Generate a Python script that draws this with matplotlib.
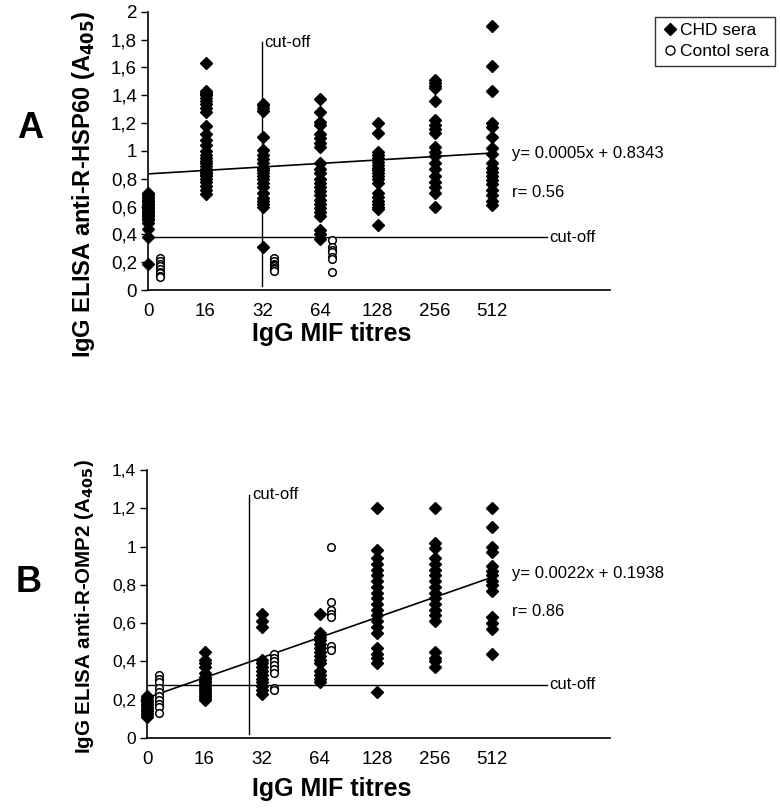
import matplotlib
matplotlib.use('Agg')
from matplotlib import pyplot as plt
from matplotlib.lines import Line2D

plt.rcParams['font.family'] = ['Liberation Sans', 'DejaVu Sans']

titres = ['0', '16', '32', '64', '128', '256', '512']

# panel A: anti-R-HSP60, CHD sera per titre
a_chd = [
    [0.70, 0.69, 0.68, 0.67, 0.66, 0.65, 0.64, 0.63, 0.62, 0.61, 0.60, 0.59, 0.58,
     0.57, 0.56, 0.55, 0.54, 0.53, 0.52, 0.51, 0.50, 0.48, 0.44, 0.38, 0.19],
    [1.63, 1.43, 1.42, 1.41, 1.40, 1.38, 1.36, 1.34, 1.31, 1.28, 1.18, 1.12, 1.08,
     1.04, 1.00, 0.97, 0.95, 0.93, 0.91, 0.89, 0.87, 0.86, 0.85, 0.84, 0.83, 0.82,
     0.80, 0.78, 0.75, 0.72, 0.69],
    [1.34, 1.33, 1.31, 1.29, 1.10, 1.01, 0.97, 0.94, 0.91, 0.88, 0.86, 0.84, 0.82,
     0.80, 0.77, 0.74, 0.70, 0.66, 0.64, 0.62, 0.60, 0.31],
    [1.37, 1.28, 1.21, 1.19, 1.12, 1.09, 1.06, 1.03, 0.91, 0.87, 0.84, 0.80, 0.77,
     0.74, 0.71, 0.68, 0.65, 0.62, 0.59, 0.56, 0.53, 0.43, 0.40, 0.37],
    [1.20, 1.13, 0.99, 0.97, 0.95, 0.92, 0.90, 0.88, 0.86, 0.84, 0.82, 0.80, 0.77,
     0.70, 0.67, 0.64, 0.62, 0.60, 0.58, 0.47],
    [1.51, 1.49, 1.47, 1.45, 1.36, 1.22, 1.19, 1.16, 1.13, 1.03, 0.99, 0.96, 0.91,
     0.87, 0.82, 0.78, 0.74, 0.70, 0.60],
    [1.90, 1.61, 1.43, 1.20, 1.17, 1.10, 1.02, 0.98, 0.91, 0.88, 0.85, 0.82, 0.79,
     0.76, 0.72, 0.68, 0.64, 0.61],
]
# control sera only at titres 0, 32, 64
a_ctl = [
    [0.23, 0.21, 0.19, 0.17, 0.15, 0.13, 0.12, 0.10, 0.09],
    [],
    [0.23, 0.21, 0.19, 0.18, 0.17, 0.16, 0.15, 0.14],
    [0.36, 0.31, 0.29, 0.27, 0.24, 0.22, 0.13],
    [], [], [],
]
a_fit = [0.835, 0.985]
a_cut_y = 0.38
a_cut_x = 1.98

# panel B: anti-R-OMP2
b_chd = [
    [0.22, 0.21, 0.20, 0.19, 0.18, 0.17, 0.16, 0.15, 0.14, 0.13, 0.12, 0.11],
    [0.45, 0.41, 0.39, 0.37, 0.34, 0.32, 0.31, 0.30, 0.29, 0.28, 0.27, 0.26, 0.25,
     0.24, 0.23, 0.22, 0.21, 0.20],
    [0.65, 0.61, 0.58, 0.41, 0.39, 0.37, 0.35, 0.33, 0.31, 0.29, 0.27, 0.25, 0.23],
    [0.65, 0.55, 0.53, 0.51, 0.49, 0.47, 0.45, 0.43, 0.41, 0.39, 0.35, 0.33, 0.31,
     0.29],
    [1.20, 0.98, 0.94, 0.91, 0.88, 0.85, 0.82, 0.79, 0.76, 0.73, 0.70, 0.67, 0.64,
     0.61, 0.58, 0.55, 0.47, 0.44, 0.42, 0.39, 0.24],
    [1.20, 1.02, 0.99, 0.94, 0.91, 0.88, 0.85, 0.82, 0.79, 0.76, 0.73, 0.70, 0.67,
     0.64, 0.61, 0.45, 0.42, 0.40, 0.37],
    [1.20, 1.10, 1.00, 0.97, 0.90, 0.87, 0.85, 0.82, 0.80, 0.77, 0.63, 0.60, 0.57,
     0.44],
]
b_ctl = [
    [0.33, 0.31, 0.29, 0.26, 0.24, 0.22, 0.20, 0.18, 0.16, 0.13],
    [],
    [0.44, 0.42, 0.40, 0.38, 0.36, 0.34, 0.26, 0.25],
    [1.00, 0.71, 0.67, 0.65, 0.63, 0.48, 0.46],
    [], [], [],
]
b_fit = [0.21, 0.84]
b_cut_y = 0.277
b_cut_x = 1.78


def panel(ax, chd, ctl, fit, cut_y, cut_x, ymax, ylabel, eq, r, letter,
          cut_top, eq_y, r_y, label_y, xlabel_y, ylabel_size, ytick_size):
    for i, vals in enumerate(chd):
        ax.plot([i] * len(vals), vals, 'D', color='black', markersize=6.5,
                clip_on=False, zorder=3)
    for i, vals in enumerate(ctl):
        if vals:
            ax.plot([i + 0.2] * len(vals), vals, 'o', mfc='white', mec='black',
                    mew=1.1, markersize=5.5, clip_on=False, zorder=3)
    ax.plot([0, 6], fit, color='black', lw=1.2, zorder=2)
    ax.plot([0, 6.95], [cut_y, cut_y], color='black', lw=1.0)
    ax.text(7.0, cut_y, 'cut-off', fontsize=12, va='center', ha='left')
    ax.plot([cut_x, cut_x], [0.015 * ymax, cut_top], color='black', lw=1.0)
    ax.text(cut_x + 0.05, cut_top, 'cut-off', fontsize=12, va='center', ha='left')
    ax.text(6.35, eq_y, eq, fontsize=12, va='center', ha='left')
    ax.text(6.35, r_y, r, fontsize=12, va='center', ha='left')

    ax.set_xlim(0, 8.05)
    ax.set_ylim(0, ymax)
    ax.set_xticks(range(len(titres)))
    ax.set_xticklabels(titres, fontsize=13.5)
    ax.tick_params(axis='x', length=0, pad=9)
    n = int(round(ymax / 0.2))
    yt = [k * 0.2 for k in range(n + 1)]
    ax.set_yticks(yt)
    ax.set_yticklabels([('%g' % round(v, 1)).replace('.', ',') for v in yt],
                       fontsize=ytick_size)
    ax.tick_params(axis='y', direction='out', length=5, width=1, pad=3)
    for s in ['top', 'right']:
        ax.spines[s].set_visible(False)
    ax.spines['left'].set_linewidth(1.2)
    ax.spines['bottom'].set_linewidth(1.2)
    ax.set_xlabel('IgG MIF titres', fontsize=18, fontweight='bold')
    ax.xaxis.set_label_coords(0.398, xlabel_y)
    ax.set_ylabel(ylabel, fontsize=ylabel_size, fontweight='bold')
    ax.yaxis.set_label_coords(-0.11, label_y)
    ax.text(-0.255, 0.58, letter, transform=ax.transAxes, fontsize=26,
            fontweight='bold', ha='center', va='center')


fig = plt.figure(figsize=[7.8, 8.11], dpi=100)
ax_a = fig.add_axes([0.19, 0.6424, 0.592, 0.343])
ax_b = fig.add_axes([0.1885, 0.09, 0.5935, 0.3305])

panel(ax_a, a_chd, a_ctl, a_fit, a_cut_y, a_cut_x, 2.0,
      'IgG ELISA anti-R-HSP60 (A$_{\\mathbf{405}}$)', 'y= 0.0005x + 0.8343', 'r= 0.56',
      'A', 1.78, 0.985, 0.70, 0.38, -0.115, 17, 13.5)
panel(ax_b, b_chd, b_ctl, b_fit, b_cut_y, b_cut_x, 1.4,
      'IgG ELISA anti-R-OMP2 (A$_{\\mathbf{405}}$)', 'y= 0.0022x + 0.1938', 'r= 0.86',
      'B', 1.27, 0.86, 0.66, 0.49, -0.145, 14.8, 12.5)

handles = [
    Line2D([], [], marker='D', color='black', ls='none', markersize=6.5),
    Line2D([], [], marker='o', mfc='white', mec='black', ls='none', markersize=6.5),
]
fig.legend(handles, ['CHD sera', 'Contol sera'], loc='upper right',
           bbox_to_anchor=(0.994, 0.979), fontsize=12.5, frameon=True, fancybox=False,
           edgecolor='black', handletextpad=0.1, handlelength=1.0, borderpad=0.35,
           labelspacing=0.35, borderaxespad=0.0)

plt.savefig('out.png', dpi=100)
